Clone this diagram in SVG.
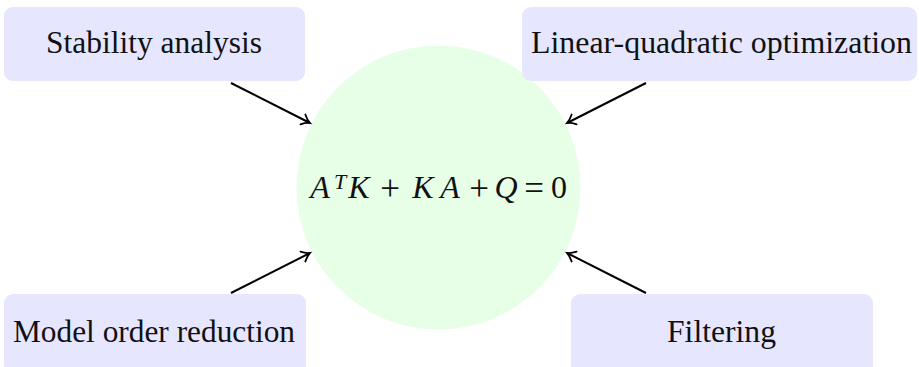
<svg xmlns="http://www.w3.org/2000/svg" width="919" height="367" viewBox="0 0 919 367">
<style>
.box{fill:#e6e6ff;}
.lbl{font-family:'Liberation Serif',serif;font-size:31px;fill:#111;text-anchor:middle;}
.eq{font-family:'Liberation Serif',serif;font-size:32px;fill:#111;text-anchor:middle;}
.it{font-style:italic;}
.op{font-size:35px;}
.conn{stroke:#000;stroke-width:2;fill:none;marker-end:url(#arr);}
</style>
<defs>
<marker id="arr" markerWidth="14" markerHeight="14" refX="9" refY="7" orient="auto" markerUnits="userSpaceOnUse">
<path d="M1,1.5 Q5,5.5 9,7 Q5,8.5 1,12.5" stroke="#000" stroke-width="1.8" fill="none" stroke-linecap="round"/>
</marker>
</defs>
<g id="center">
<circle cx="438.5" cy="187.5" r="142" fill="#e6ffe6"/>
<text class="eq" y="198"><tspan class="it" x="320">A</tspan><tspan class="it" x="340" y="189" font-size="22">T</tspan><tspan class="it" x="359" y="198">K</tspan><tspan class="op" x="390" y="200">+</tspan><tspan class="it" x="423" y="198">K</tspan><tspan class="it" x="450">A</tspan><tspan class="op" x="479" y="200">+</tspan><tspan class="it" x="506" y="198">Q</tspan><tspan class="op" x="534" y="200">=</tspan><tspan x="559" y="198">0</tspan></text>
</g>
<g id="stability">
<rect class="box" x="4" y="7" width="301" height="74" rx="9"/>
<text class="lbl" x="154" y="53" textLength="216" lengthAdjust="spacingAndGlyphs">Stability analysis</text>
</g>
<g id="lq">
<rect class="box" x="522" y="7" width="395" height="74" rx="9"/>
<text class="lbl" x="721.5" y="53" textLength="381" lengthAdjust="spacingAndGlyphs">Linear-quadratic optimization</text>
</g>
<g id="mor">
<rect class="box" x="4" y="294" width="302" height="80" rx="9"/>
<text class="lbl" x="154" y="342" textLength="282" lengthAdjust="spacingAndGlyphs">Model order reduction</text>
</g>
<g id="filtering">
<rect class="box" x="571" y="294" width="302" height="80" rx="9"/>
<text class="lbl" x="721.5" y="342" textLength="109" lengthAdjust="spacingAndGlyphs">Filtering</text>
</g>
<g id="connectors">
<line class="conn" x1="231" y1="83" x2="310" y2="123"/>
<line class="conn" x1="646" y1="83" x2="567" y2="123"/>
<line class="conn" x1="231" y1="293" x2="310" y2="253"/>
<line class="conn" x1="646" y1="293" x2="567" y2="253"/>
</g>
</svg>
